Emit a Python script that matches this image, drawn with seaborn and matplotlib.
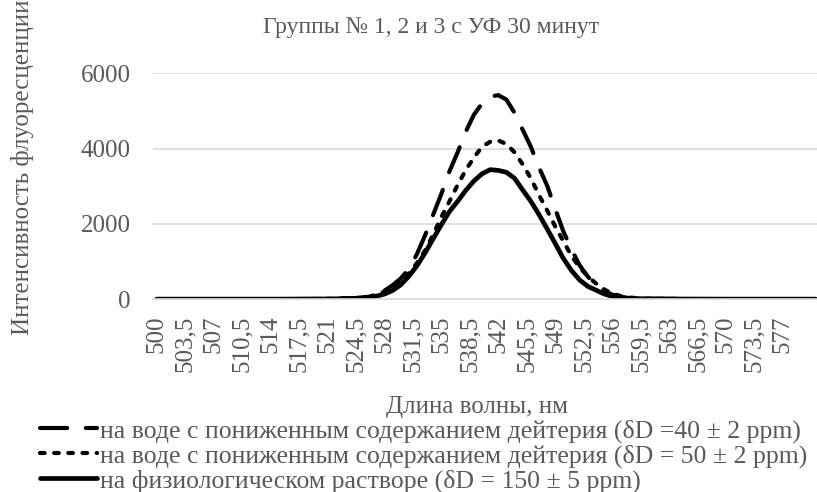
import numpy as np
import pandas as pd
import matplotlib
matplotlib.use("Agg")
import matplotlib.pyplot as plt
import seaborn as sns

# Длина волны, нм
wl = [500, 505, 510, 515, 520, 522, 524, 525, 526, 527, 528, 529, 530, 531, 532,
      533, 534, 535, 536, 537, 538, 539, 540, 541, 542, 543, 544, 545, 546, 547,
      548, 549, 550, 551, 552, 553, 554, 555, 556, 557, 558, 560, 565, 570, 575, 581]

# δD = 40 ppm
d40 = [0, 0, 0, 0, 4, 10, 24, 35, 65, 125, 225, 370, 550, 800, 1200,
       1700, 2250, 2800, 3400, 3900, 4450, 4900, 5200, 5380, 5420, 5300, 4950, 4500, 4050, 3500,
       3020, 2400, 1800, 1320, 900, 600, 380, 220, 120, 60, 30, 10, 2, 0, 0, 0]
# δD = 50 ppm
d50 = [0, 0, 0, 0, 4, 10, 22, 32, 60, 115, 200, 320, 470, 680, 960,
       1290, 1720, 2180, 2600, 3036, 3430, 3760, 4050, 4180, 4215, 4120, 3900, 3580, 3210, 2770,
       2360, 1930, 1540, 1150, 840, 610, 420, 260, 150, 85, 45, 12, 3, 0, 0, 0]
# δD = 150 ppm
d150 = [0, 0, 0, 0, 3, 8, 18, 27, 45, 80, 135, 230, 380, 610, 890,
        1230, 1610, 1980, 2330, 2600, 2890, 3140, 3330, 3440, 3420, 3370, 3210, 2900, 2600, 2250,
        1870, 1480, 1080, 760, 510, 340, 240, 140, 75, 40, 22, 8, 2, 0, 0, 0]

labels = [
    "на воде с пониженным содержанием дейтерия (δD =40 ± 2 ppm)",
    "на воде с пониженным содержанием дейтерия (δD = 50 ± 2 ppm)",
    "на физиологическом растворе (δD = 150 ± 5 ppm)",
]
xticks = [500 + 3.5 * i for i in range(23)]
yticks = [0, 2000, 4000, 6000]

sns.set_theme(style="white")
plt.rcParams["font.family"] = ["Liberation Serif", "DejaVu Serif"]
gray = "#595959"
fs = 18

fig = plt.figure(figsize=(8.17, 4.92), dpi=100)
ax = fig.add_axes([0.187, 0.392, 0.813, 0.459])

styles = [((6.5, 4.5), 3.0), ((1.1, 2.3), 3.0), (None, 3.4)]
for vals, lab, (dash, lw) in zip([d40, d50, d150], labels, styles):
    sns.lineplot(x=wl, y=vals, ax=ax, color="black", linewidth=lw, label=lab)
    line = ax.lines[-1]
    line.set_solid_capstyle("round")
    line.set_solid_joinstyle("round")
    if dash is not None:
        line.set_dashes(dash)
        line.set_dash_capstyle("round")

ax.set_xlim(499.5, 581.2)
ax.set_ylim(0, 6000)
ax.set_xticks(xticks)
ax.set_xticklabels([("%g" % t).replace(".", ",") for t in xticks], rotation=90,
                   fontsize=fs, color=gray)
ax.set_yticks(yticks)
ax.set_yticklabels([str(t) for t in yticks], fontsize=fs, color=gray)
ax.tick_params(axis="x", length=0, pad=12)
ax.tick_params(axis="y", length=0, pad=16)
ax.yaxis.grid(True, color="#d9d9d9", linewidth=1.2)
ax.set_axisbelow(True)
for s in ["top", "right", "left"]:
    ax.spines[s].set_visible(False)
ax.spines["bottom"].set_color("#d9d9d9")
ax.spines["bottom"].set_linewidth(1.2)

ax.set_xlabel("")
ax.set_ylabel("")
fig.text(0.027, 0.66, "Интенсивность флуоресценции", rotation=90, ha="center",
         va="center", fontsize=fs, color=gray)
fig.text(0.584, 0.172, "Длина волны, нм", ha="center", va="center",
         fontsize=fs, color=gray)
fig.text(0.528, 0.945, "Группы № 1, 2 и 3 с УФ 30 минут", ha="center", va="center",
         fontsize=fs - 1, color=gray)

handles, labs = ax.get_legend_handles_labels()
ax.get_legend().remove()
leg = fig.legend(handles, labs, loc="upper left", bbox_to_anchor=(0.049, 0.148),
                 frameon=False, fontsize=18.5, handlelength=2.2, handletextpad=0.12,
                 labelspacing=0.06, borderaxespad=0, borderpad=0)
for t in leg.get_texts():
    t.set_color(gray)

fig.savefig("out.png", dpi=100)
